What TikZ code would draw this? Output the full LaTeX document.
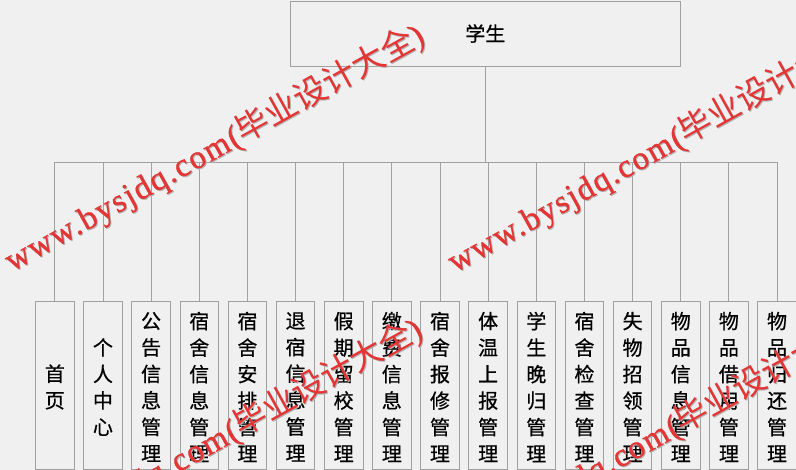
\documentclass[tikz,border=0pt]{standalone}
\usepackage{fontspec}
\newfontfamily\cjk[FakeBold=0.6]{Noto Sans CJK SC}
\newfontfamily\wmcjk{Noto Sans CJK SC}
\newfontfamily\wmserif[LetterSpace=5,FakeBold=0.8]{Liberation Serif}
\definecolor{bg}{RGB}{240,240,240}
\definecolor{ln}{RGB}{160,160,160}
\definecolor{wmred}{RGB}{228,52,52}
\tikzset{
  line/.style={draw=ln, line width=0.9pt},
  topbox/.style={line, fill=bg, minimum width=390pt, minimum height=65pt, inner sep=0pt, font=\cjk\fontsize{20}{24}\selectfont},
  childbox/.style={line, fill=bg, minimum width=38.5pt, minimum height=168pt, inner sep=0pt},
  childtext/.style={align=center, inner sep=0pt, font=\cjk\fontsize{20}{26.5}\selectfont},
  wmark/.style={text=wmred, rotate=29, anchor=base west, inner sep=0pt, font=\fontsize{33}{33}\selectfont},
  wshadow/.style={wmark, text=black!30}
}
\newcommand{\wmtext}{{\wmserif www.bysjdq.com(}{\wmcjk 毕业设计大全}{\wmserif )}}
\begin{document}
\begin{tikzpicture}[x=1pt, y=-1pt]
\useasboundingbox (0,0) rectangle (796,470);
\fill[bg] (0,0) rectangle (796,470);
\node[topbox] (top) at (485.3,33.5) {学生};
\coordinate (bus) at (0,162);
\foreach \i/\lbl in {0/{首\\页},1/{个\\人\\中\\心},2/{公\\告\\信\\息\\管\\理},3/{宿\\舍\\信\\息\\管\\理},4/{宿\\舍\\安\\排\\管\\理},5/{退\\宿\\信\\息\\管\\理},6/{假\\期\\留\\校\\管\\理},7/{缴\\费\\信\\息\\管\\理},8/{宿\\舍\\报\\修\\管\\理},9/{体\\温\\上\\报\\管\\理},10/{学\\生\\晚\\归\\管\\理},11/{宿\\舍\\检\\查\\管\\理},12/{失\\物\\招\\领\\管\\理},13/{物\\品\\信\\息\\管\\理},14/{物\\品\\借\\用\\管\\理},15/{物\\品\\归\\还\\管\\理}}{
  \node[childbox] (c\i) at ({54.8+48.15*\i},385) {};
  \node[childtext, yshift=-2pt] (t\i) at (c\i.center) {\lbl};
  \draw[line] (c\i.north) -- (c\i.north |- bus);
}
\draw[line] (top.south) -- (top.south |- bus);
\draw[line] (c0.north |- bus) -- (c15.north |- bus);
\begin{scope}
\clip (0,0) rectangle (796,470);
\foreach \px/\py in {12/272,455/273,10/566,451/562}{
  \node[wshadow] (ws) at (\px+1,\py+1) {\wmtext};
  \node[wmark] (wm) at (\px,\py) {\wmtext};
}
\end{scope}
\end{tikzpicture}
\end{document}
